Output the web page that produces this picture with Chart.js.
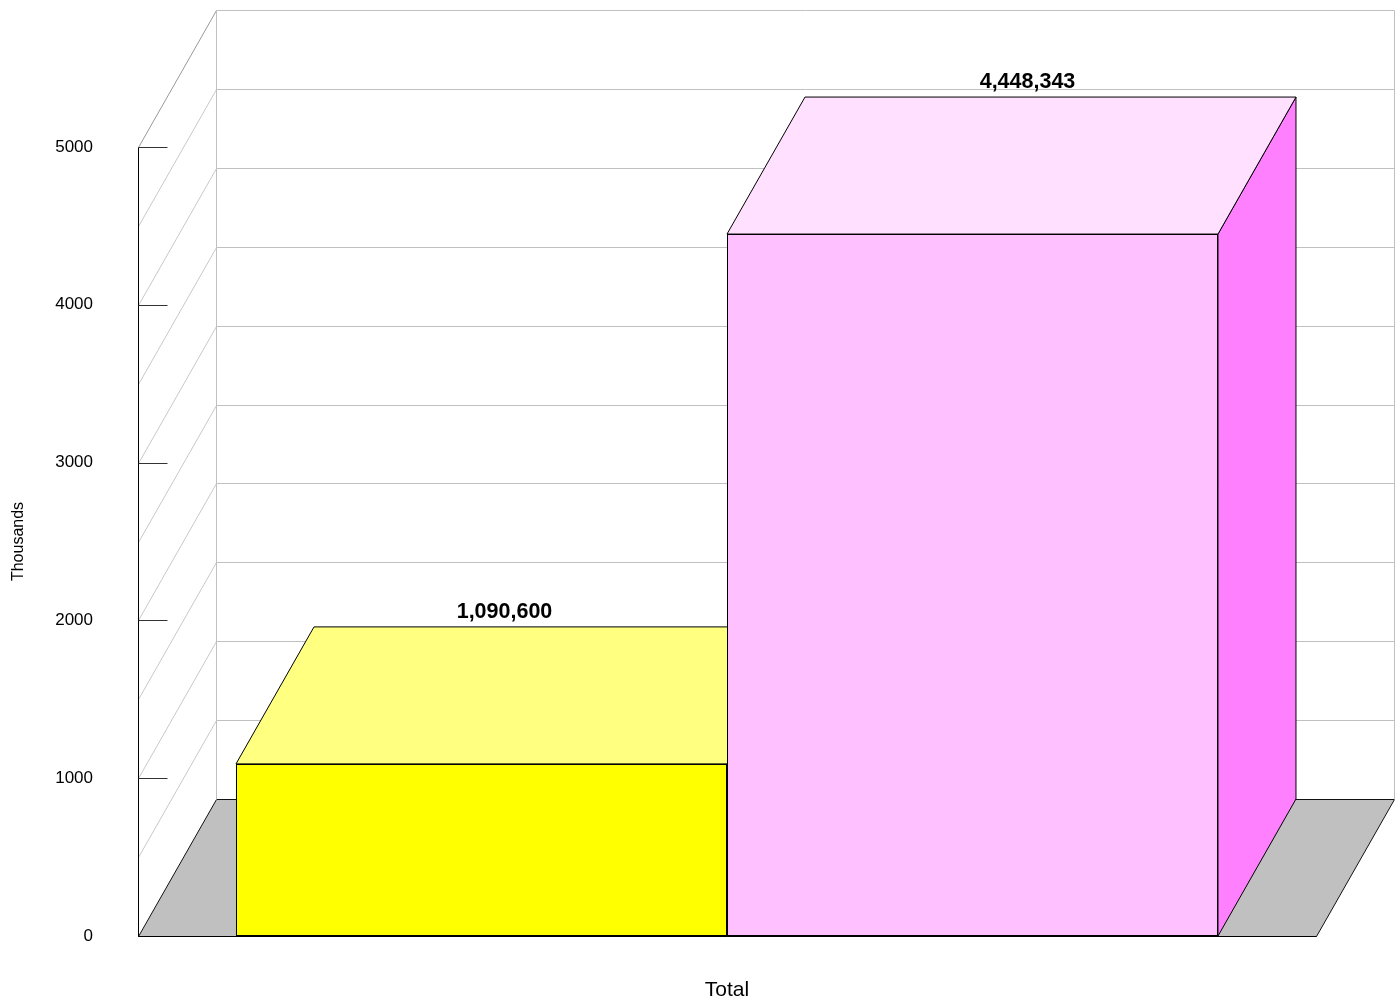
<!DOCTYPE html>
<html>
<head>
<meta charset="utf-8">
<title>Total</title>
<script src="https://cdn.jsdelivr.net/npm/chart.js@4.4.1/dist/chart.umd.min.js"></script>
<style>
  html, body { margin: 0; padding: 0; background: #fff; }
  canvas { display: block; }
</style>
</head>
<body>
<canvas id="totalChart" width="1398" height="1001"></canvas>
<script>
'use strict'

// values in thousands
const categories = ['Total'];
const yellowValues = [1090.6];
const pinkValues = [4448.343];
const yTicks = [0, 1000, 2000, 3000, 4000, 5000];

const FONT = "'Liberation Sans', Arial, Helvetica, sans-serif";
const DX = 78;          // depth of the box, horizontal
const DY = 137;         // depth of the box, vertical
const GRID_STEP = 500;  // back wall lines

const line = (ctx, x1, y1, x2, y2, color) => {
    ctx.beginPath();
    ctx.strokeStyle = color;
    ctx.moveTo(x1, y1);
    ctx.lineTo(x2, y2);
    ctx.stroke();
}

const poly = (ctx, pts, fill, stroke) => {
    ctx.beginPath();
    ctx.moveTo(pts[0][0], pts[0][1]);
    for (let i = 1; i < pts.length; i++) ctx.lineTo(pts[i][0], pts[i][1]);
    ctx.closePath();
    ctx.fillStyle = fill;
    ctx.fill();
    ctx.strokeStyle = stroke;
    ctx.stroke();
}

const box3d = {
    id: 'box3d',
    beforeDatasetsDraw(chart) {
        const { ctx, chartArea: a, scales: { y } } = chart;
        const L = Math.round(a.left) + 0.5;
        const R = Math.round(a.right) + 0.5;
        const B = Math.round(y.getPixelForValue(y.min)) + 0.5;
        const T = Math.round(y.getPixelForValue(y.max)) + 0.5;
        ctx.save();
        ctx.lineWidth = 1;

        // floor
        poly(ctx, [[L, B], [L + DX, B - DY], [R + DX, B - DY], [R, B]], '#c0c0c0', '#111');

        // back wall and side wall lines
        for (let v = y.min + GRID_STEP; v <= y.max; v += GRID_STEP) {
            const py = Math.round(y.getPixelForValue(v)) + 0.5;
            line(ctx, L + DX, py - DY, R + DX, py - DY, '#c0c0c0');
            line(ctx, L, py, L + DX, py - DY, v === y.max ? '#999' : '#c8c8c8');
        }
        line(ctx, L + DX, T - DY, L + DX, B - DY, '#c0c0c0');
        line(ctx, R + DX, T - DY, R + DX, B - DY, '#c0c0c0');

        // y axis with inward tick marks
        line(ctx, L, T, L, B, '#000');
        yTicks.forEach(v => {
            const py = Math.round(y.getPixelForValue(v)) + 0.5;
            line(ctx, L, py, L + 29, py, '#333');
        });
        line(ctx, L, B, R, B, '#000');

        // top and side faces of the bars
        chart.data.datasets.forEach((ds, i) => {
            chart.getDatasetMeta(i).data.forEach(bar => {
                const l = bar.x - bar.width / 2, r = bar.x + bar.width / 2;
                const t = bar.y, b = bar.base;
                poly(ctx, [[r, b], [r + DX, b - DY], [r + DX, t - DY], [r, t]], ds.sideColor, '#000');
                poly(ctx, [[l, t], [l + DX, t - DY], [r + DX, t - DY], [r, t]], ds.topColor, '#000');
            });
        });
        ctx.restore();
    },
    afterDatasetsDraw(chart) {
        const { ctx } = chart;
        ctx.save();
        ctx.font = 'bold 21.5px ' + FONT;
        ctx.fillStyle = '#000';
        ctx.textAlign = 'center';
        ctx.textBaseline = 'middle';
        chart.data.datasets.forEach((ds, i) => {
            chart.getDatasetMeta(i).data.forEach((bar, j) => {
                const txt = Math.round(ds.data[j] * 1000).toLocaleString('en-US');
                ctx.fillText(txt, bar.x + ds.labelShift, bar.y - DY - 15);
            });
        });
        ctx.restore();
    }
};

const chartTotal = document.getElementById('totalChart').getContext('2d');

const totalChart = new Chart(chartTotal, {
    type: 'bar',
    data: {
        labels: categories,
        datasets: [{
            data: yellowValues,
            backgroundColor: '#ffff00',
            topColor: '#ffff80',
            sideColor: '#c8c800',
            labelShift: 23,
            borderColor: '#000',
            borderWidth: 1,
            borderSkipped: false
        },
        {
            data: pinkValues,
            backgroundColor: '#ffc0ff',
            topColor: '#ffe0ff',
            sideColor: '#ff80ff',
            labelShift: 55,
            borderColor: '#000',
            borderWidth: 1,
            borderSkipped: false
        }]
    },
    options: {
        responsive: false,
        animation: false,
        devicePixelRatio: 1,
        categoryPercentage: 0.8336,
        barPercentage: 1,
        layout: { padding: { top: 147, right: 82, left: 0, bottom: 0 } },
        plugins: {
            legend: { display: false },
            tooltip: { enabled: false }
        },
        scales: {
            x: {
                grid: { display: false },
                border: { display: false },
                ticks: { color: '#000', font: { family: FONT, size: 21 }, padding: 34 },
                afterFit(scale) { scale.height = 65; }
            },
            y: {
                min: 0,
                max: 5000,
                grid: { display: false },
                border: { display: false },
                afterBuildTicks(scale) { scale.ticks = yTicks.map(v => ({ value: v })); },
                ticks: {
                    color: '#000',
                    font: { family: FONT, size: 17 },
                    padding: 37,
                    callback: v => String(v)
                },
                title: {
                    display: true,
                    text: 'Thousands',
                    color: '#000',
                    font: { family: FONT, size: 16 },
                    padding: { top: 9, bottom: 0 }
                },
                afterFit(scale) { scale.width = 138; }
            }
        }
    },
    plugins: [box3d]
});
</script>
</body>
</html>
